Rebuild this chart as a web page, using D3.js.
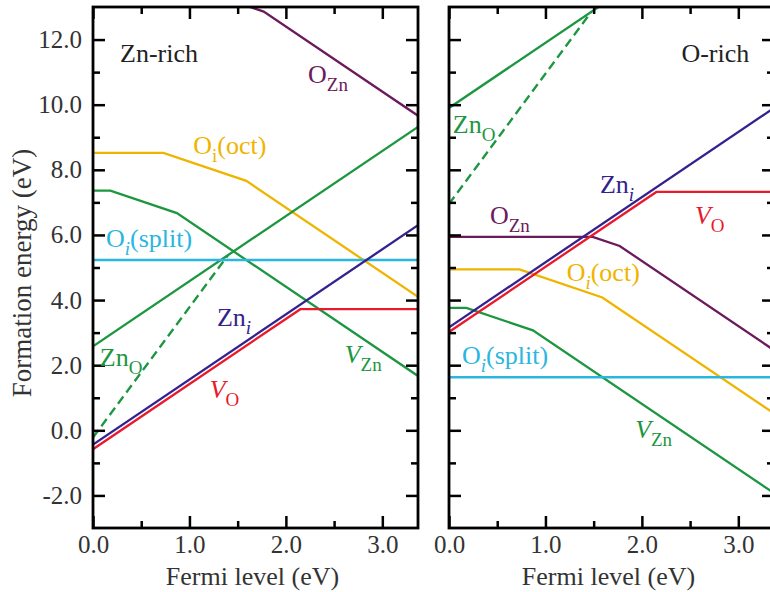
<!DOCTYPE html>
<html><head><meta charset="utf-8">
<script src="https://cdn.jsdelivr.net/npm/d3@7"></script>
</head><body style="margin:0"><svg id="c" width="770" height="592" style="display:block;background:#fff"></svg>
<script>
// ---- data ----
const xMajor = [0, 1, 2, 3];
const xMinor = [0.5, 1.5, 2.5];
const yMajor = [-2, 0, 2, 4, 6, 8, 10, 12];
const yMinor = [-1, 1, 3, 5, 7, 9, 11];
const xMax = 3.37;

// Zn-rich
const znRich_OZn    = [[0,13.14],[1.49,13.14],[1.77,12.86],[3.37,9.66]];
const znRich_OiOct  = [[0,8.52],[0.73,8.52],[1.59,7.66],[3.37,4.10]];
const znRich_VZn    = [[0,7.36],[0.18,7.36],[0.87,6.67],[3.37,1.67]];
const znRich_ZnO    = [[0,2.58],[3.37,9.32]];
const znRich_ZnOd   = [[0,-0.22],[1.40,5.38]];
const znRich_OiSpl  = [[0,5.23],[3.37,5.23]];
const znRich_VO     = [[0,-0.58],[2.15,3.72],[3.37,3.72]];
const znRich_Zni    = [[0,-0.44],[3.37,6.30]];
// O-rich
const oRich_OZn     = [[0,5.94],[1.49,5.94],[1.77,5.66],[3.37,2.46]];
const oRich_OiOct   = [[0,4.94],[0.73,4.94],[1.59,4.08],[3.37,0.52]];
const oRich_VZn     = [[0,3.76],[0.18,3.76],[0.87,3.07],[3.37,-1.93]];
const oRich_ZnO     = [[0,9.90],[3.37,16.64]];
const oRich_ZnOd    = [[0,6.95],[1.475,12.85]];
const oRich_OiSpl   = [[0,1.63],[3.37,1.63]];
const oRich_VO      = [[0,3.02],[2.15,7.32],[3.37,7.32]];
const oRich_Zni     = [[0,3.16],[3.37,9.90]];

const C = {OZn:"#6c1a5a", Oi:"#f0b400", green:"#1c9640", split:"#2bb6e0", Zni:"#33228e", VO:"#e81a2c"};

const seriesLeft = [
  [znRich_OZn,C.OZn,false],[znRich_OiOct,C.Oi,false],[znRich_VZn,C.green,false],
  [znRich_ZnO,C.green,false],[znRich_ZnOd,C.green,true],[znRich_OiSpl,C.split,false],
  [znRich_VO,C.VO,false],[znRich_Zni,C.Zni,false]];
const seriesRight = [
  [oRich_OZn,C.OZn,false],[oRich_OiOct,C.Oi,false],[oRich_VZn,C.green,false],
  [oRich_ZnO,C.green,false],[oRich_ZnOd,C.green,true],[oRich_OiSpl,C.split,false],
  [oRich_VO,C.VO,false],[oRich_Zni,C.Zni,false]];

// labels: [x, y (data units), parts, color]
const labelsLeft = [
  [0.28,11.32,[["Zn-rich"]],"#222"],
  [2.23,10.68,[["O"],["Zn","sub"]],C.OZn],
  [1.04,8.49,[["O"],["i","sub"],["(oct)","back"]],C.Oi],
  [0.135,5.63,[["O"],["i","subi"],["(split)","back"]],C.split],
  [0.07,1.97,[["Zn"],["O","sub"]],C.green],
  [1.285,3.20,[["Zn"],["i","subi"]],C.Zni],
  [1.21,0.98,[["V","it"],["O","sub"]],C.VO],
  [2.61,2.06,[["V","it"],["Zn","sub"]],C.green]];
const labelsRight = [
  [2.41,11.32,[["O-rich"]],"#222"],
  [0.04,9.14,[["Zn"],["O","sub"]],C.green],
  [0.425,6.34,[["O"],["Zn","sub"]],C.OZn],
  [1.565,7.29,[["Zn"],["i","subi"]],C.Zni],
  [2.55,6.34,[["V","it"],["O","sub"]],C.VO],
  [1.22,4.58,[["O"],["i","subi"],["(oct)","back"]],C.Oi],
  [0.135,2.03,[["O"],["i","subi"],["(split)","back"]],C.split],
  [1.93,-0.25,[["V","it"],["Zn","sub"]],C.green]];

// ---- drawing ----
const svg = d3.select("#c");
const FONT = '"Liberation Serif"';
svg.style("font-family", FONT);
const fmt = d => d3.format(".1f")(d).replace("\u2212","-");
const y = d3.scaleLinear().domain([-3,13]).range([528,7]);

function txt(sel, size, fill){
  return sel.style("font-family", FONT).attr("font-size", size).attr("fill", fill);
}

function panel(id, x0, x1, series, labels, showY){
  const x = d3.scaleLinear().domain([0,xMax]).range([x0,x1]);
  const g = svg.append("g");
  g.append("clipPath").attr("id",id).append("rect")
    .attr("x",x0).attr("y",7).attr("width",x1-x0).attr("height",521);
  const line = d3.line().x(d=>x(d[0])).y(d=>y(d[1]));
  const sg = g.append("g").attr("clip-path",`url(#${id})`);
  series.forEach(([d,col,dash])=>{
    sg.append("path").attr("d",line(d)).attr("fill","none").attr("stroke",col)
      .attr("stroke-width",2.3).attr("stroke-dasharray",dash?"9,5":null);
  });
  const style = a => a.attr("font-family",null).attr("font-size",null)
     .call(s=>s.select(".domain").remove())
     .call(s=>s.selectAll("line").attr("stroke","#000").attr("stroke-width",2.5))
     .call(s=>txt(s.selectAll("text"),25,"#333"));
  g.append("g").attr("transform","translate(0,528)")
    .call(d3.axisBottom(x).tickValues(xMajor).tickSize(-12).tickPadding(7).tickFormat(fmt)).call(style);
  g.append("g").attr("transform","translate(0,528)")
    .call(d3.axisBottom(x).tickValues(xMinor).tickSize(-7).tickFormat("")).call(style);
  g.append("g").attr("transform","translate(0,7)")
    .call(d3.axisTop(x).tickValues(xMajor).tickSize(-12).tickFormat("")).call(style);
  g.append("g").attr("transform","translate(0,7)")
    .call(d3.axisTop(x).tickValues(xMinor).tickSize(-7).tickFormat("")).call(style);
  const la = d3.axisLeft(y).tickValues(yMajor).tickSize(-12).tickPadding(11)
    .tickFormat(showY ? fmt : "");
  g.append("g").attr("transform",`translate(${x0},0)`).call(la).call(style);
  g.append("g").attr("transform",`translate(${x0},0)`)
    .call(d3.axisLeft(y).tickValues(yMinor).tickSize(-7).tickFormat("")).call(style);
  g.append("g").attr("transform",`translate(${x1},0)`)
    .call(d3.axisRight(y).tickValues(yMajor).tickSize(-12).tickFormat("")).call(style);
  g.append("g").attr("transform",`translate(${x1},0)`)
    .call(d3.axisRight(y).tickValues(yMinor).tickSize(-7).tickFormat("")).call(style);
  g.append("rect").attr("x",x0).attr("y",7).attr("width",x1-x0).attr("height",521)
    .attr("fill","none").attr("stroke","#000").attr("stroke-width",2.8);
  txt(g.append("text"),26,"#333").attr("x",(x0+x1)/2 - 3).attr("y",585)
    .attr("text-anchor","middle").text("Fermi level (eV)");
  labels.forEach(([lx,ly,parts,col])=>{
    const t = txt(g.append("text"),26,col).attr("x",x(lx)).attr("y",y(ly));
    let shifted = 0;
    parts.forEach(([s,k])=>{
      const ts = t.append("tspan").text(s);
      if(k==="it") ts.attr("font-style","italic");
      if(k==="sub"||k==="subi"){
        ts.attr("font-size",19).attr("dy",8); shifted=8;
        if(k==="subi") ts.attr("font-style","italic");
      }
      if(k==="back"){ ts.attr("dy",-shifted); shifted=0; }
    });
  });
}

panel("clipL", 93, 418, seriesLeft, labelsLeft, true);
panel("clipR", 449, 774, seriesRight, labelsRight, false);

txt(svg.append("text"),27,"#333").attr("transform","translate(31,273) rotate(-90)")
  .attr("text-anchor","middle").text("Formation energy (eV)");
</script></body></html>
